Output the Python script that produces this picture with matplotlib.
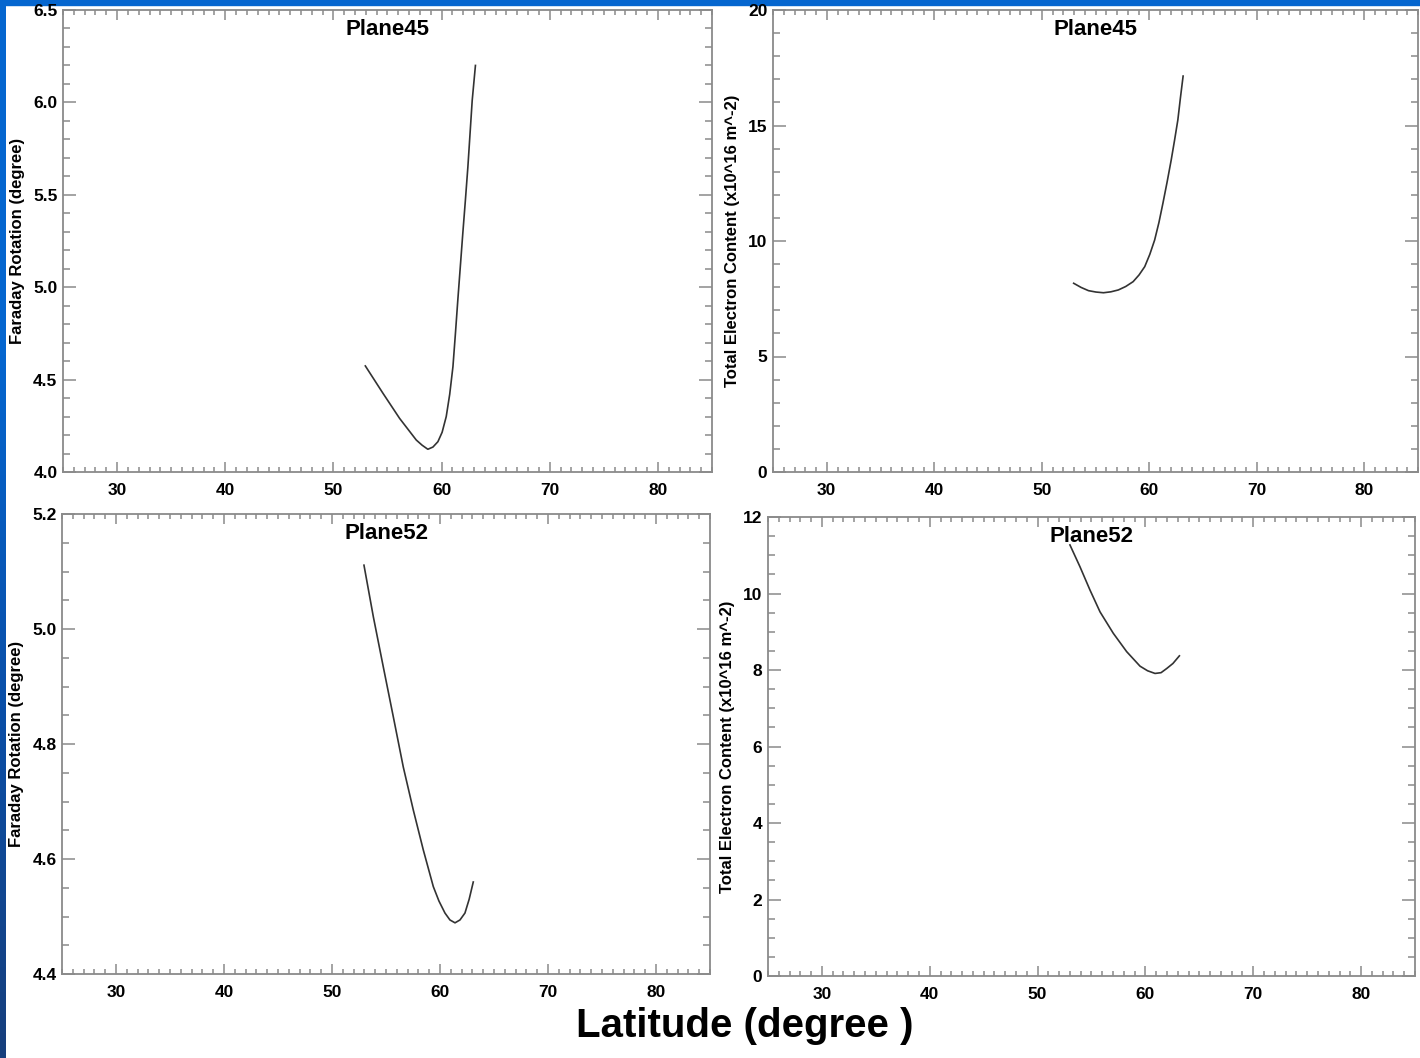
import numpy as np
import matplotlib
matplotlib.use("Agg")
import matplotlib.pyplot as plt
from matplotlib.ticker import MultipleLocator, FormatStrFormatter

plt.rcParams['font.family'] = ['Liberation Sans', 'DejaVu Sans']
plt.rcParams['font.weight'] = 'bold'

## plane 45 : faraday rotation and TEC against latitude
lat45_fr = [52.95, 54.58, 56.12, 57.66, 58.2, 58.73, 59.2, 59.66, 60.05, 60.43, 60.75, 61.05,
            61.28, 61.5, 61.73, 61.96, 62.2, 62.43, 62.63, 62.83, 63.13]
fr45 = [4.574, 4.426, 4.29, 4.173, 4.145, 4.123, 4.135, 4.164, 4.215, 4.30, 4.42, 4.57,
        4.75, 4.93, 5.11, 5.29, 5.47, 5.65, 5.83, 6.01, 6.20]

lat45_tec = [52.97, 53.66, 54.35, 55.05, 55.74, 56.43, 57.12, 57.81, 58.5, 59.05, 59.58, 60.05,
             60.5, 60.9, 61.27, 61.66, 62.04, 62.35, 62.66, 62.9, 63.15]
tec45 = [8.17, 7.99, 7.85, 7.79, 7.76, 7.80, 7.88, 8.03, 8.24, 8.53, 8.89, 9.42,
         10.04, 10.8, 11.63, 12.55, 13.5, 14.35, 15.24, 16.2, 17.14]

## plane 52
lat52_fr = [52.96, 53.83, 54.75, 55.68, 56.6, 57.53, 58.45, 59.38, 59.9, 60.46, 60.92, 61.39,
            61.85, 62.31, 62.7, 63.08]
fr52 = [5.111, 5.021, 4.934, 4.847, 4.76, 4.685, 4.616, 4.552, 4.527, 4.506, 4.494, 4.489,
        4.494, 4.506, 4.53, 4.56]

lat52_tec = [53.0, 53.93, 54.86, 55.79, 57.02, 58.26, 59.5, 60.2, 60.89, 61.45, 61.98, 62.55, 63.15]
tec52 = [11.27, 10.70, 10.09, 9.52, 8.96, 8.48, 8.10, 7.98, 7.91, 7.93, 8.04, 8.17, 8.37]

frLabel = 'Faraday Rotation (degree)'
tecLabel = 'Total Electron Content (x10^16 m^-2)'

W, H = 1420, 1058
fig = plt.figure(figsize=(W / 100, H / 100), dpi=100)
fig.patch.set_facecolor('white')

## slide border: blue strip along the top and a shaded one on the left
fig.add_artist(plt.Rectangle((0, 1 - 5 / H), 1, 5 / H, transform=fig.transFigure,
                             color='#0566cf', zorder=0))
strip = fig.add_axes([0, 0, 6 / W, 1])
grad = np.linspace(0, 1, 256).reshape(-1, 1)
strip.imshow(grad, aspect='auto', cmap=matplotlib.colors.LinearSegmentedColormap.from_list(
    'edge', ['#0566cf', '#0566cf', '#0a4fa8', '#173f7c']), origin='upper')
strip.set_axis_off()

spineColor = '#8a8a8a'
lineColor = '#333333'


def setupPanel(ax, ylim, major, minor, fmt, title, ylabel):
    ax.set_xlim(25, 85)
    ax.set_ylim(*ylim)
    ax.xaxis.set_minor_locator(MultipleLocator(1))
    ax.yaxis.set_major_locator(MultipleLocator(major))
    ax.yaxis.set_minor_locator(MultipleLocator(minor))
    ax.yaxis.set_major_formatter(FormatStrFormatter(fmt))
    ax.set_xticks([30, 40, 50, 60, 70, 80])
    for s in ax.spines.values():
        s.set_color(spineColor)
        s.set_linewidth(1.3)
    ax.tick_params(axis='both', which='both', direction='in', color=spineColor,
                   top=True, right=True, labelsize=12.5, width=1.1)
    ax.tick_params(axis='x', which='major', length=7, pad=8)
    ax.tick_params(axis='x', which='minor', length=3.5)
    ax.tick_params(axis='y', which='major', length=9.5, pad=4)
    ax.tick_params(axis='y', which='minor', length=5)
    for lab in ax.get_xticklabels() + ax.get_yticklabels():
        lab.set_fontweight('bold')
    ax.text(0.5, 0.958, title, transform=ax.transAxes, ha='center', va='center',
            fontsize=16, fontweight='bold')
    ax.set_ylabel(ylabel, fontsize=12, fontweight='bold', labelpad=6)


ax1 = fig.add_axes([63 / W, 1 - 472 / H, 649 / W, 462 / H])
ax1.plot(lat45_fr, fr45, color=lineColor, lw=1.2, solid_joinstyle='round')
setupPanel(ax1, (4.0, 6.5), 0.5, 0.1, '%.1f', 'Plane45', frLabel)

ax2 = fig.add_axes([773 / W, 1 - 472 / H, 645 / W, 462 / H])
ax2.plot(lat45_tec, tec45, color=lineColor, lw=1.2, solid_joinstyle='round')
setupPanel(ax2, (0, 20), 5, 1, '%d', 'Plane45', tecLabel)

ax3 = fig.add_axes([62 / W, 1 - 974 / H, 648 / W, 460 / H])
ax3.plot(lat52_fr, fr52, color=lineColor, lw=1.2, solid_joinstyle='round')
setupPanel(ax3, (4.4, 5.2), 0.2, 0.05, '%.1f', 'Plane52', frLabel)

ax4 = fig.add_axes([768 / W, 1 - 976 / H, 647 / W, 459 / H])
ax4.plot(lat52_tec, tec52, color=lineColor, lw=1.2, solid_joinstyle='round')
setupPanel(ax4, (0, 12), 2, 0.5, '%d', 'Plane52', tecLabel)

fig.text(745 / W, 1 - 1026 / H, 'Latitude (degree )', ha='center', va='center',
         fontsize=29, fontweight='bold')

fig.savefig('out.png', dpi=100)
